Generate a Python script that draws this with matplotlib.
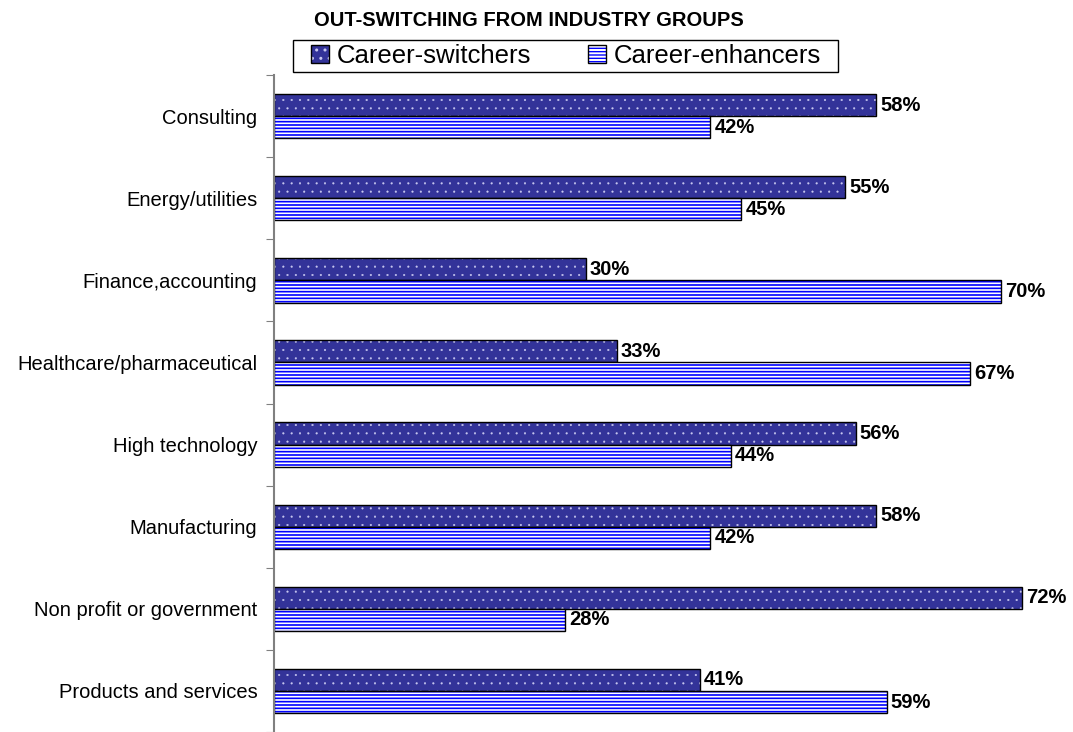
import numpy as np
import matplotlib.pyplot as plt
import matplotlib as mpl
from matplotlib.patches import Rectangle

categories = ["Consulting", "Energy/utilities", "Finance,accounting",
              "Healthcare/pharmaceutical", "High technology", "Manufacturing",
              "Non profit or government", "Products and services"]
switchers = [58, 55, 30, 33, 56, 58, 72, 41]
enhancers = [42, 45, 70, 67, 44, 42, 28, 59]

plt.rcParams['font.family'] = ['Liberation Sans', 'DejaVu Sans']

fig = plt.figure(figsize=(10.73, 7.32), dpi=100)
ax = fig.add_axes([0.2554, 0.0, 0.72, 0.8975])

y = np.arange(len(categories))
h = 0.27

b1 = ax.barh(y - h / 2, switchers, height=h, color='#333399', edgecolor='black',
             linewidth=1.0, label='Career-switchers')
for p in b1:
    p.set_hatch('..')
    p.set_hatch_linewidth(0.3)
    p._hatch_color = mpl.colors.to_rgba('#c8c8f0')

b2 = ax.barh(y + h / 2, enhancers, height=h, color='white', edgecolor='black',
             linewidth=1.0, label='Career-enhancers')
for p in b2:
    p.set_hatch('-----')
    p.set_hatch_linewidth(1.2)
    p._hatch_color = mpl.colors.to_rgba('#0000ff')

for yy, v in zip(y - h / 2, switchers):
    ax.text(v + 0.4, yy, f"{v}%", va='center', ha='left', fontsize=14.5, fontweight='bold')
for yy, v in zip(y + h / 2, enhancers):
    ax.text(v + 0.4, yy, f"{v}%", va='center', ha='left', fontsize=14.5, fontweight='bold')

ax.set_xlim(0, 74.4)
ax.set_ylim(len(categories) - 0.5, -0.5)

ax.set_yticks(np.arange(-0.5, len(categories), 1))
ax.set_yticklabels([])
ax.set_yticks(y, minor=True)
ax.set_yticklabels(categories, minor=True, fontsize=14.5)
ax.tick_params(axis='y', which='major', length=6, color='#808080', direction='out')
ax.tick_params(axis='y', which='minor', length=0, pad=12)
ax.set_xticks([])

for s in ['top', 'right', 'bottom']:
    ax.spines[s].set_visible(False)
ax.spines['left'].set_color('#808080')
ax.spines['left'].set_linewidth(1.5)

fig.text(0.493, 0.972, "OUT-SWITCHING FROM INDUSTRY GROUPS", ha='center', va='center',
         fontsize=14.5, fontweight='bold')

leg = fig.legend(handles=[b1, b2], loc='center', bbox_to_anchor=(0.5275, 0.9235),
                 ncol=2, fontsize=18.5, frameon=False,
                 handlelength=0.7, handleheight=0.7, handletextpad=0.3,
                 columnspacing=2.2, borderpad=0.2)
fig.patches.append(Rectangle((0.2731, 0.9016), 0.5079, 0.0437, transform=fig.transFigure,
                             facecolor='none', edgecolor='black', linewidth=1.0))

fig.savefig("out.png", dpi=100)
